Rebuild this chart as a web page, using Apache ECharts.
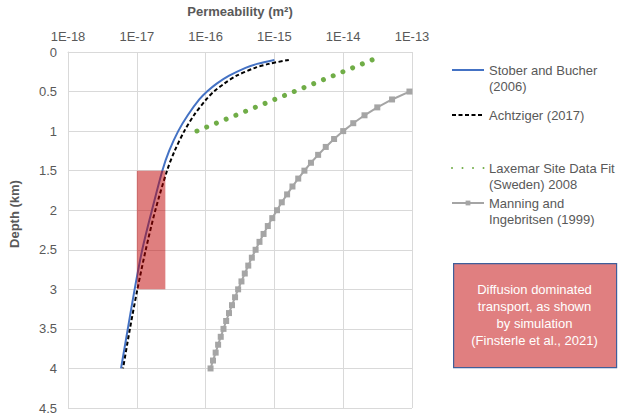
<!DOCTYPE html>
<html>
<head>
<meta charset="utf-8">
<script src="https://cdn.jsdelivr.net/npm/echarts@6/dist/echarts.min.js"></script>
<style>
html,body{margin:0;padding:0;background:#fff;}
#chart{width:618px;height:417px;}
</style>
</head>
<body>
<div id="chart"></div>
<script>
// ---- Data (permeability in m², depth in km) ----
var xTickLabels = ['1E-18', '1E-17', '1E-16', '1E-15', '1E-14', '1E-13'];
var yTickLabels = ['0', '0.5', '1', '1.5', '2', '2.5', '3', '3.5', '4', '4.5'];

var stoberDepth = [0.1, 0.15, 0.2, 0.3, 0.4, 0.5, 0.6, 0.8, 1.0, 1.25, 1.5, 2.0, 2.5, 3.0, 3.5, 4.0];
var stoberPerm  = [1.0e-15, 5.6e-16, 3.8e-16, 2.2e-16, 1.45e-16, 1.05e-16, 8.1e-17, 5.5e-17, 4.0e-17, 2.95e-17, 2.35e-17, 1.66e-17, 1.2e-17, 9.3e-18, 7.4e-18, 5.9e-18];

var achtDepth = [0.1, 0.15, 0.2, 0.3, 0.4, 0.5, 0.6, 0.8, 1.0, 1.25, 1.5, 2.0, 2.5, 3.0, 3.5, 4.0];
var achtPerm  = [1.62e-15, 8.32e-16, 5.25e-16, 2.82e-16, 1.86e-16, 1.32e-16, 1.02e-16, 6.76e-17, 4.9e-17, 3.55e-17, 2.75e-17, 1.86e-17, 1.35e-17, 1.02e-17, 7.94e-18, 6.31e-18];

var laxDepth = [0.1, 0.4, 0.7, 1.0];
var laxPerm  = [2.63e-14, 3.72e-15, 5.25e-16, 7.41e-17];

var manDepth = [0.5, 0.6, 0.7, 0.8, 0.9, 1.0, 1.1, 1.2, 1.3, 1.4, 1.5, 1.6, 1.7, 1.8, 1.9, 2.0, 2.1, 2.2, 2.3, 2.4, 2.5, 2.6, 2.7, 2.8, 2.9, 3.0, 3.1, 3.2, 3.3, 3.4, 3.5, 3.6, 3.7, 3.8, 3.9, 4.0];
var manPerm  = [9.18e-14, 5.13e-14, 3.13e-14, 2.04e-14, 1.40e-14, 1.00e-14, 7.37e-15, 5.58e-15, 4.32e-15, 3.40e-15, 2.73e-15, 2.22e-15, 1.83e-15, 1.53e-15, 1.28e-15, 1.09e-15, 9.31e-16, 8.02e-16, 6.96e-16, 6.07e-16, 5.33e-16, 4.70e-16, 4.17e-16, 3.71e-16, 3.32e-16, 2.97e-16, 2.68e-16, 2.42e-16, 2.19e-16, 1.99e-16, 1.82e-16, 1.66e-16, 1.52e-16, 1.40e-16, 1.28e-16, 1.18e-16];

var boxPerm  = [1.0e-17, 2.6e-17];
var boxDepth = [1.5, 3.0];

var seriesNames = ['Stober and Bucher (2006)', 'Achtziger (2017)', 'Laxemar Site Data Fit (Sweden) 2008', 'Manning and Ingebritsen (1999)'];
var legendLines = {
  'Stober and Bucher (2006)': ['Stober and Bucher', '(2006)'],
  'Achtziger (2017)': ['Achtziger (2017)'],
  'Laxemar Site Data Fit (Sweden) 2008': ['Laxemar Site Data Fit', '(Sweden) 2008'],
  'Manning and Ingebritsen (1999)': ['Manning and', 'Ingebritsen (1999)']
};
var noteText = 'Diffusion dominated\ntransport, as shown\nby simulation\n(Finsterle et al., 2021)';

function pairs(perm, depth) {
  return perm.map(function (k, i) { return [k, depth[i]]; });
}

var FONT = "'Liberation Sans', Arial, sans-serif";
var TXT = '#595959';

function legendBlock(name, top, item) {
  return {
    show: true,
    left: 451,
    top: top,
    padding: 0,
    orient: 'vertical',
    itemWidth: 32,
    itemHeight: 6,
    selectedMode: false,
    formatter: function (n) {
      var l = legendLines[n];
      // a blank leading line keeps the icon level with the first text line
      return l.length > 1 ? '\u00a0\n' + l.join('\n') : l[0];
    },
    textStyle: { fontFamily: FONT, fontSize: 13, color: TXT, lineHeight: 16 },
    data: [item]
  };
}

var chart = echarts.init(document.getElementById('chart'), null, { renderer: 'svg' });

var option = {
  animation: false,
  backgroundColor: '#fff',
  textStyle: { fontFamily: FONT },
  grid: { left: 67, right: 206, top: 49, bottom: 9, containLabel: false },
  xAxis: {
    type: 'log',
    logBase: 10,
    position: 'top',
    min: 1e-18,
    max: 1e-13,
    name: 'Permeability (m²)',
    nameLocation: 'middle',
    nameGap: 34,
    nameTextStyle: { fontFamily: FONT, fontSize: 13, fontWeight: 'bold', color: TXT },
    axisLine: { show: true, lineStyle: { color: '#D9D9D9' } },
    axisTick: { show: false },
    axisLabel: {
      fontFamily: FONT, fontSize: 13, color: TXT, margin: 9,
      formatter: function (v) {
        var e = Math.round(Math.log10(v)) + 18;
        return xTickLabels[e] || '';
      }
    },
    splitLine: { show: true, lineStyle: { color: '#D9D9D9', width: 1 } }
  },
  yAxis: {
    type: 'value',
    inverse: true,
    min: 0,
    max: 4.5,
    interval: 0.5,
    name: 'Depth (km)',
    nameLocation: 'middle',
    nameGap: 47,
    nameRotate: 90,
    nameTextStyle: { fontFamily: FONT, fontSize: 13, fontWeight: 'bold', color: TXT, padding: [0, 0, 0, 32] },
    axisLine: { show: true, lineStyle: { color: '#D9D9D9' } },
    axisTick: { show: false },
    axisLabel: {
      fontFamily: FONT, fontSize: 13, color: TXT, margin: 11,
      formatter: function (v) { return yTickLabels[Math.round(v * 2)]; }
    },
    splitLine: { show: true, lineStyle: { color: '#D9D9D9', width: 1 } }
  },
  legend: [
    legendBlock(seriesNames[0], 46, { name: seriesNames[0], itemStyle: { opacity: 0 } }),
    legendBlock(seriesNames[1], 107, { name: seriesNames[1], itemStyle: { opacity: 0 } }),
    legendBlock(seriesNames[2], 144, { name: seriesNames[2], itemStyle: { opacity: 0 } }),
    legendBlock(seriesNames[3], 179, { name: seriesNames[3] })
  ],
  series: [
    {
      name: seriesNames[0], type: 'line', smooth: 0.3,
      data: pairs(stoberPerm, stoberDepth),
      showSymbol: false, symbol: 'none',
      lineStyle: { color: '#4472C4', width: 2 },
      itemStyle: { color: '#4472C4' },
      z: 3
    },
    {
      name: seriesNames[1], type: 'line', smooth: 0.3,
      data: pairs(achtPerm, achtDepth),
      showSymbol: false, symbol: 'none',
      lineStyle: { color: '#000000', width: 2, type: [4, 2.5] },
      itemStyle: { color: '#000000' },
      z: 4
    },
    {
      name: seriesNames[2], type: 'line',
      data: pairs(laxPerm, laxDepth),
      showSymbol: false, symbol: 'none',
      lineStyle: { color: '#70AD47', width: 5, type: [0.01, 10.49], cap: 'round' },
      itemStyle: { color: '#70AD47' },
      z: 3
    },
    {
      name: seriesNames[3], type: 'line',
      data: pairs(manPerm, manDepth),
      symbol: 'rect', symbolSize: 6, showSymbol: true,
      lineStyle: { color: '#A5A5A5', width: 2 },
      itemStyle: { color: '#A5A5A5' },
      z: 3
    },
    {
      name: 'box', type: 'custom', silent: true, z: 10,
      encode: { x: [0, 2], y: [1, 3] },
      data: [[boxPerm[0], boxDepth[0], boxPerm[1], boxDepth[1]]],
      renderItem: function (params, api) {
        var p1 = api.coord([api.value(0), api.value(1)]);
        var p2 = api.coord([api.value(2), api.value(3)]);
        return {
          type: 'rect',
          shape: { x: Math.min(p1[0], p2[0]), y: Math.min(p1[1], p2[1]), width: Math.abs(p2[0] - p1[0]), height: Math.abs(p2[1] - p1[1]) },
          style: { fill: 'rgba(192,0,0,0.5)' }
        };
      }
    }
  ],
  graphic: [
    {
      type: 'rect', left: 453, top: 263, z: 20,
      shape: { width: 163, height: 104 },
      style: { fill: '#E07F80', stroke: '#3F5E9A', lineWidth: 1.2 }
    },
    {
      type: 'text', z: 21,
      x: 534.5, y: 315,
      style: {
        text: noteText, fill: '#ffffff', font: "13px 'Liberation Sans', Arial, sans-serif",
        align: 'center', verticalAlign: 'middle', lineHeight: 17
      }
    }
  ]
};
chart.setOption(option);
</script>
</body>
</html>
